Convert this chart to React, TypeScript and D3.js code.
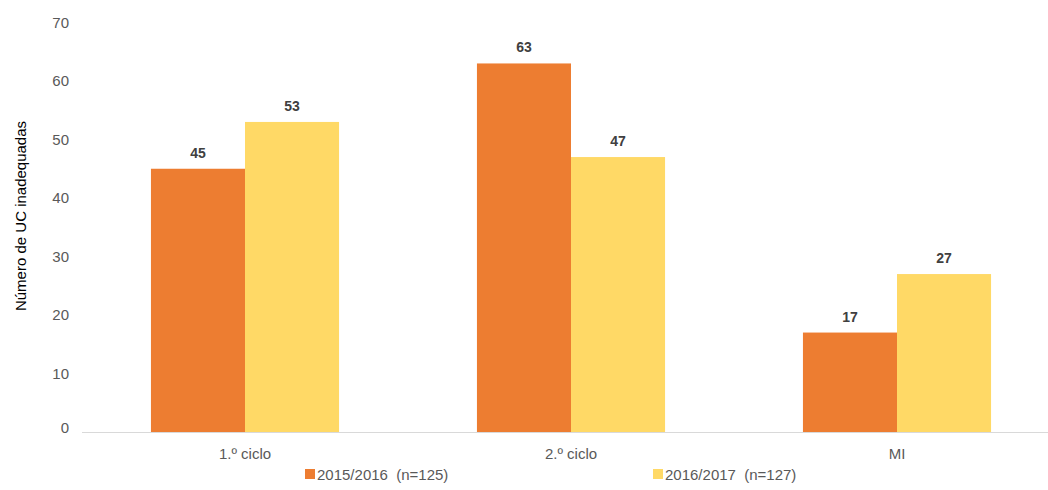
import React from "react";
import * as d3 from "d3";

const categories = ["1.º ciclo", "2.º ciclo", "MI"];
const seriesNames = ["2015/2016\u00a0\u00a0(n=125)", "2016/2017\u00a0\u00a0(n=127)"];
const series2015 = [45, 63, 17];
const series2016 = [53, 47, 27];
const yTicks = [0, 10, 20, 30, 40, 50, 60, 70];
const colors = ["#ED7D31", "#FFD966"];

const W = 1048;
const H = 490;
const left = 82;
const right = 1060;
const top = 22.5;
const bottom = 432;

export default function App() {
  const x = d3.scaleBand<string>().domain(categories).range([left, right]).paddingInner(0.423).paddingOuter(0.2115);
  const inner = d3.scaleBand<number>().domain([0, 1]).range([0, x.bandwidth()]);
  const y = d3.scaleLinear().domain([0, 70]).range([bottom, top]);
  const data = [series2015, series2016];
  const font = "'Liberation Sans', Arial, sans-serif";
  const legendX = [305, 653];
  return (
    <svg width={W} height={H} style={{ position: "absolute", left: 0, top: 0, background: "#fff" }} fontFamily={font}>
      <line x1={left} x2={W} y1={y(0) + 0.5} y2={y(0) + 0.5} stroke="#D9D9D9" strokeWidth={1} />
      {yTicks.map((t) => (
        <text key={t} x={69} y={t === 0 ? y(t) - 4 : y(t)} dy="0.36em" textAnchor="end" fontSize={15} fill="#595959">{t}</text>
      ))}
      <text transform={`translate(26,${216}) rotate(-90)`} textAnchor="middle" fontSize={15} fill="#000">Número de UC inadequadas</text>
      {data.map((vals, si) =>
        vals.map((v, ci) => {
          const bx = (x(categories[ci]) as number) + (inner(si) as number);
          return (
            <g key={`${si}-${ci}`}>
              <rect x={bx} y={y(v)} width={inner.bandwidth()} height={y(0) - y(v)} fill={colors[si]} />
              <text x={bx + inner.bandwidth() / 2} y={y(v) - 11} textAnchor="middle" fontSize={14} fontWeight="bold" fill="#404040">{v}</text>
            </g>
          );
        })
      )}
      {categories.map((c) => (
        <text key={c} x={(x(c) as number) + x.bandwidth() / 2} y={459} textAnchor="middle" fontSize={15} fill="#595959">{c}</text>
      ))}
      {seriesNames.map((s, i) => (
        <g key={s}>
          <rect x={legendX[i]} y={469} width={10} height={10} fill={colors[i]} />
          <text x={legendX[i] + 12} y={480} fontSize={15} fill="#595959">{s}</text>
        </g>
      ))}
    </svg>
  );
}
